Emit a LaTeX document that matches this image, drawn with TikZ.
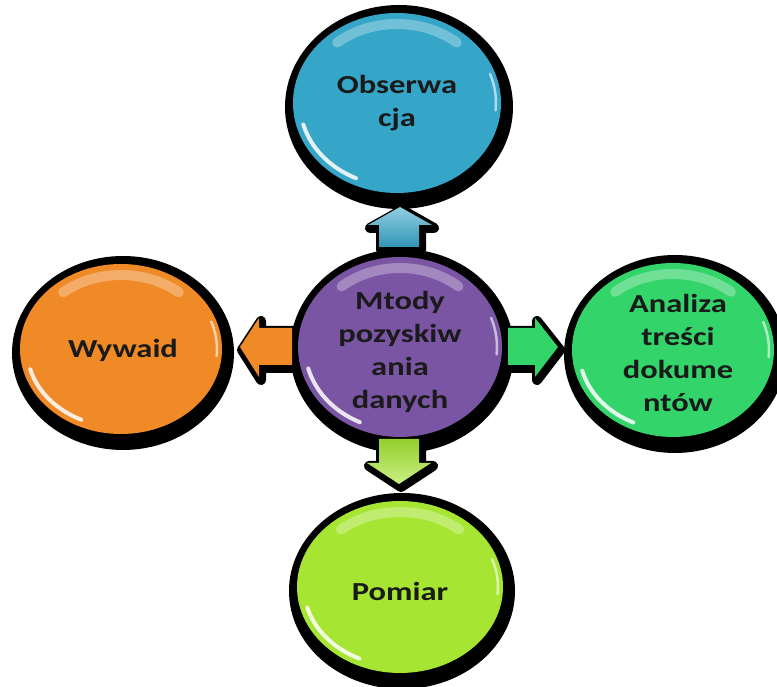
\documentclass[tikz,border=0pt]{standalone}
\usepackage{fontspec}
\newfontfamily\lbl[FakeStretch=1.25]{Carlito}
\usetikzlibrary{shapes.geometric,calc}
\definecolor{cyanb}{HTML}{36A6C8}
\definecolor{purpb}{HTML}{7A55A4}
\definecolor{orngb}{HTML}{EF8A27}
\definecolor{grnb}{HTML}{33D46A}
\definecolor{limeb}{HTML}{A6E632}
\definecolor{txt}{HTML}{1A1A1A}
\tikzset{
  bub/.style={ellipse, inner sep=0pt, text=txt, align=center,
    font=\lbl\bfseries\fontsize{26}{33}\selectfont},
  shade/.style={fill=black, draw=black, line width=10pt, line join=round},
}
% #1 x, #2 y, #3 rx, #4 ry
\newcommand{\bshadow}[4]{\fill[black] (#1+2,#2-4) ellipse [x radius=#3+10, y radius=#4+12];}
\newcommand{\bgloss}[4]{%
  \draw[white, opacity=.3, line width=10pt, line cap=round]
    ($(#1,#2)+(50:#3-11 and #4-11)$) arc[start angle=50, end angle=130, x radius=#3-11, y radius=#4-11];
  \draw[white, opacity=.85, line width=4pt, line cap=round]
    ($(#1,#2)+(195:#3-7 and #4-7)$) arc[start angle=195, end angle=245, x radius=#3-7, y radius=#4-7];
  \draw[white, opacity=.6, line width=2.5pt, line cap=round]
    ($(#1,#2)+(-5:#3-5 and #4-5)$) arc[start angle=-5, end angle=20, x radius=#3-5, y radius=#4-5];
}
\newcommand{\uparr}[1]{\path[#1] (379,440) -- (379,462) -- (368,462) -- (400,480) -- (432,462) -- (419,462) -- (419,440) -- cycle;}
\newcommand{\downarr}[1]{\path[#1] (379,248) -- (379,224) -- (367,224) -- (399,203) -- (431,224) -- (419,224) -- (419,248) -- cycle;}
\newcommand{\leftarr}[1]{\path[#1] (292,359) -- (259,359) -- (259,369) -- (240,340) -- (259,310) -- (259,322) -- (292,322) -- cycle;}
\newcommand{\rightarr}[1]{\path[#1] (508,359) -- (535,359) -- (535,369) -- (558,340) -- (535,310) -- (535,322) -- (508,322) -- cycle;}
\begin{document}
\begin{tikzpicture}[x=1pt, y=1pt]
\useasboundingbox (0,0) rectangle (777,687);
\fill[white] (0,0) rectangle (777,687);
% black shadows
\bshadow{397}{584}{104}{90}
\bshadow{400}{340}{102}{90}
\bshadow{121}{338}{101}{85}
\bshadow{673}{337}{101}{87}
\bshadow{400}{100}{103}{86}
\uparr{shade, shift={(2,-3)}}
\downarr{shade, shift={(2,-3)}}
\leftarr{shade, shift={(2,-3)}}
\rightarr{shade, shift={(2,-3)}}
% arrows
\uparr{top color=cyanb!55!white, bottom color=cyanb!90!black}
\downarr{top color=limeb!90!black, bottom color=limeb!60!white}
\leftarr{fill=orngb}
\rightarr{fill=grnb}
% bubbles
\node[bub, fill=cyanb, minimum width=208pt, minimum height=180pt] (obs) at (397,584) {Obserwa\\cja};
\node[bub, fill=purpb, minimum width=204pt, minimum height=180pt] (mid) at (400,340) {};
\node[bub, fill=orngb, minimum width=202pt, minimum height=170pt] (wyw) at (121,338) {};
\node[bub, fill=grnb, minimum width=202pt, minimum height=174pt] (ana) at (673,337) {};
\node[bub, fill=limeb, minimum width=206pt, minimum height=172pt] (pom) at (400,100) {};
\bgloss{397}{584}{104}{90}
\bgloss{400}{340}{102}{90}
\bgloss{121}{338}{101}{85}
\bgloss{673}{337}{101}{87}
\bgloss{400}{100}{103}{86}
\node[bub] (midtxt) at ($(mid)+(0,-5)$) {Mtody\\pozyskiw\\ania\\danych};
\node[bub] (wywtxt) at ($(wyw)+(2,-1)$) {Wywaid};
\node[bub] (anatxt) at ($(ana)+(5,-3)$) {Analiza\\treści\\dokume\\ntów};
\node[bub] (pomtxt) at ($(pom)+(0,-4)$) {Pomiar};
\end{tikzpicture}
\end{document}
